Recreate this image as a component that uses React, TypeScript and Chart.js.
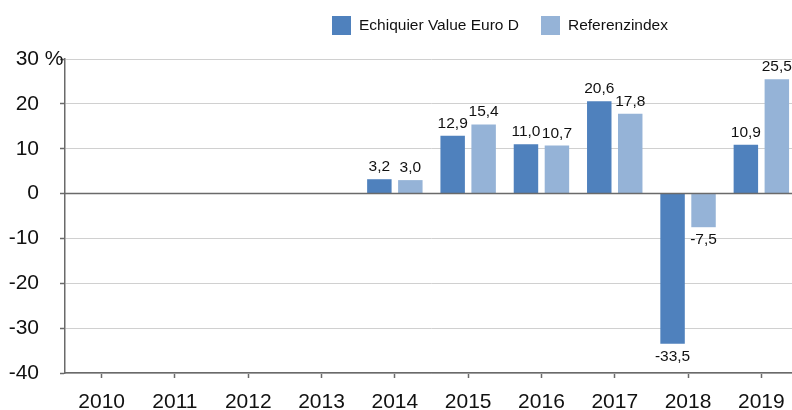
import React, { useEffect, useRef } from "react";
import { Chart, registerables } from "chart.js";

Chart.register(...registerables);

const years = ["2010", "2011", "2012", "2013", "2014", "2015", "2016", "2017", "2018", "2019"];
const fundValues = [null, null, null, null, 3.2, 12.9, 11.0, 20.6, -33.5, 10.9];
const indexValues = [null, null, null, null, 3.0, 15.4, 10.7, 17.8, -7.5, 25.5];
const seriesNames = ["Echiquier Value Euro D", "Referenzindex"];
const seriesColors = ["#4F81BD", "#95B3D7"];
const yTicks = [30, 20, 10, 0, -10, -20, -30, -40];
const yUnit = " %";

const FONT = '"Liberation Sans", Arial, Helvetica, sans-serif';

const overlayPlugin = {
  id: "overlay",
  afterDatasetsDraw(chart: any) {
    const { ctx, chartArea, scales } = chart;
    const y = scales.y;
    ctx.save();
    // zero line
    const y0 = y.getPixelForValue(0);
    ctx.strokeStyle = "#6a6a6a";
    ctx.lineWidth = 1.5;
    ctx.beginPath();
    ctx.moveTo(chartArea.left, y0);
    ctx.lineTo(chartArea.right, y0);
    ctx.stroke();

    // data labels
    ctx.font = `15.5px ${FONT}`;
    ctx.fillStyle = "#111";
    ctx.textAlign = "center";
    ctx.textBaseline = "alphabetic";
    chart.data.datasets.forEach((ds: any, di: number) => {
      const meta = chart.getDatasetMeta(di);
      meta.data.forEach((bar: any, i: number) => {
        const v = ds.data[i];
        if (v == null) return;
        const text = v.toFixed(1).replace(".", ",");
        if (v >= 0) ctx.fillText(text, bar.x, bar.y - 8);
        else ctx.fillText(text, bar.x, bar.y + 17);
      });
    });

    // y labels
    ctx.font = `21px ${FONT}`;
    ctx.textBaseline = "middle";
    yTicks.forEach((t, idx) => {
      const py = y.getPixelForValue(t);
      ctx.textAlign = "right";
      ctx.fillText(String(t), 39, py);
      if (idx === 0) {
        ctx.textAlign = "left";
        ctx.fillText(yUnit, 39, py);
      }
    });

    // legend
    ctx.font = `15.5px ${FONT}`;
    ctx.textAlign = "left";
    ctx.textBaseline = "middle";
    const legendX = [332, 541];
    seriesNames.forEach((name, i) => {
      ctx.fillStyle = seriesColors[i];
      ctx.fillRect(legendX[i], 16, 19, 19);
      ctx.fillStyle = "#111";
      ctx.fillText(name, legendX[i] + 27, 25.5);
    });
    ctx.restore();
  },
};

export default function App() {
  const ref = useRef<HTMLCanvasElement>(null);

  useEffect(() => {
    if (!ref.current) return;
    const chart = new Chart(ref.current, {
      type: "bar",
      data: {
        labels: years,
        datasets: [
          {
            label: seriesNames[0],
            data: fundValues,
            backgroundColor: seriesColors[0],
            categoryPercentage: 0.845,
            barPercentage: 0.79,
          },
          {
            label: seriesNames[1],
            data: indexValues,
            backgroundColor: seriesColors[1],
            categoryPercentage: 0.845,
            barPercentage: 0.79,
          },
        ],
      },
      options: {
        responsive: false,
        animation: false,
        devicePixelRatio: 1,
        layout: { padding: { top: 59, left: 0, right: 2, bottom: 0 } },
        plugins: {
          legend: { display: false },
          tooltip: { enabled: false },
        },
        scales: {
          x: {
            offset: true,
            grid: {
              display: true,
              drawOnChartArea: false,
              drawTicks: true,
              tickLength: 5,
              offset: false,
              tickColor: "#6a6a6a",
              tickWidth: 1.5,
            },
            border: { display: true, color: "#6a6a6a", width: 1.5 },
            ticks: {
              font: { family: FONT, size: 21 },
              color: "#111",
              padding: 12,
              maxRotation: 0,
              autoSkip: false,
            },
            afterFit: (s: any) => {
              s.height = 37;
            },
          },
          y: {
            min: -40,
            max: 30,
            ticks: { stepSize: 10, display: false },
            grid: {
              color: "#d0d0d0",
              lineWidth: 1,
              drawTicks: true,
              tickLength: 5,
              tickColor: "#6a6a6a",
              tickWidth: 1.5,
            },
            border: { display: true, color: "#6a6a6a", width: 1.5 },
            afterFit: (s: any) => {
              s.width = 65;
            },
          },
        },
      },
      plugins: [overlayPlugin],
    });
    return () => chart.destroy();
  }, []);

  return (
    <div style={{ position: "fixed", left: 0, top: 0, width: 792, height: 410, overflow: "hidden", background: "#fff" }}>
      <div style={{ width: 800, height: 410 }}>
        <canvas ref={ref} width={800} height={410} style={{ width: 800, height: 410, display: "block" }} />
      </div>
    </div>
  );
}
